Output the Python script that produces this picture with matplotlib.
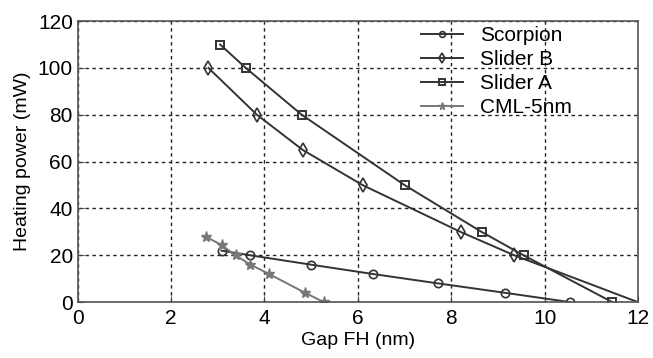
import numpy as np
import matplotlib
matplotlib.use("Agg")
import matplotlib.pyplot as plt

plt.rcParams['font.family'] = ['Liberation Sans', 'DejaVu Sans']

# data
scorpion_x = [3.08, 3.7, 5.0, 6.33, 7.72, 9.15, 10.55]
scorpion_y = [22, 20, 16, 12, 8, 4, 0]

sliderB_x = [2.8, 3.84, 4.82, 6.1, 8.2, 9.35, 12.0]
sliderB_y = [100, 80, 65, 50, 30, 20, 0]

sliderA_x = [3.05, 3.6, 4.8, 7.0, 8.65, 9.55, 11.45]
sliderA_y = [110, 100, 80, 50, 30, 20, 0]

cml_x = [2.74, 3.08, 3.38, 3.7, 4.1, 4.87, 5.27]
cml_y = [28, 24.4, 20, 16, 12, 4, 0]

fig = plt.figure(figsize=(6.53, 3.58), dpi=100)
ax = fig.add_axes([0.119, 0.156, 0.858, 0.785])

dark = '#333333'
ax.plot(scorpion_x, scorpion_y, color=dark, lw=1.4, marker='o', ms=6,
        mfc='none', mec=dark, mew=1.2, label='Scorpion')
ax.plot(sliderB_x, sliderB_y, color=dark, lw=1.4, marker='d', ms=7,
        mfc='none', mec=dark, mew=1.2, markevery=list(range(6)), label='Slider B')
ax.plot(sliderA_x, sliderA_y, color=dark, lw=1.4, marker='s', ms=5.5,
        mfc='none', mec=dark, mew=1.4, label='Slider A')
ax.plot(cml_x, cml_y, color='#777777', lw=1.4, marker='*', ms=8,
        mfc='#777777', mec='#777777', label='CML-5nm')

ax.set_xlim(0, 12)
ax.set_ylim(0, 120)
ax.set_xticks(range(0, 13, 2))
ax.set_yticks(range(0, 121, 20))
ax.grid(True, ls=(0, (2.5, 2.5)), color='#222222', lw=1.0)
ax.tick_params(direction='in', labelsize=15, length=4, color='#444444')
ax.tick_params(axis='x', pad=5)
for s in ax.spines.values():
    s.set_color('#555555')
    s.set_linewidth(1.2)

ax.set_xlabel('Gap FH (nm)', fontsize=14, labelpad=3)
ax.set_ylabel('Heating power (mW)', fontsize=14, labelpad=5)

leg = ax.legend(loc='upper right', bbox_to_anchor=(0.915, 1.05), frameon=False,
                fontsize=15, handlelength=2.0, labelspacing=0.25, handletextpad=0.8,
                markerscale=0.7)

fig.savefig('out.png', dpi=100)
